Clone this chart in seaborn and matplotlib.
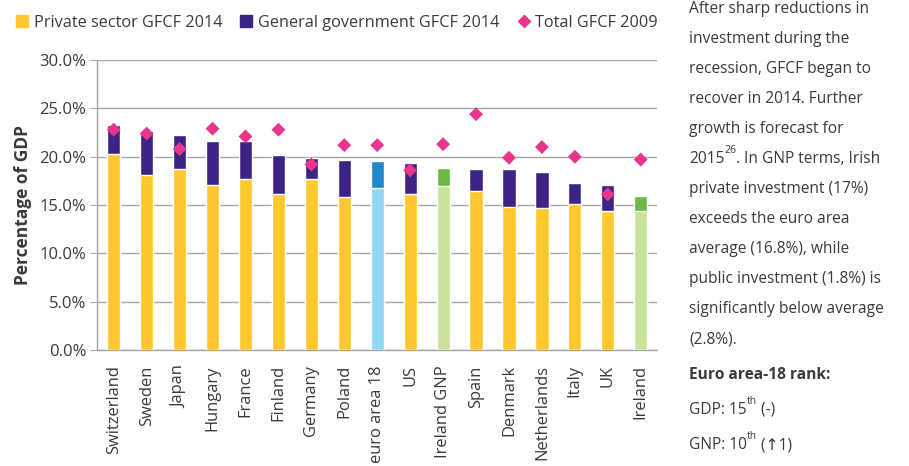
import numpy as np
import pandas as pd
import matplotlib
matplotlib.use("Agg")
import matplotlib.pyplot as plt
import seaborn as sns
from matplotlib.lines import Line2D
from matplotlib.ticker import FixedLocator, PercentFormatter

# data (% of GDP)
countries = ['Switzerland', 'Sweden', 'Japan', 'Hungary', 'France', 'Finland', 'Germany',
             'Poland', 'euro area 18', 'US', 'Ireland GNP', 'Spain', 'Denmark',
             'Netherlands', 'Italy', 'UK', 'Ireland']
private_2014 = [20.3, 18.1, 18.7, 17.1, 17.7, 16.1, 17.7, 15.8, 16.8, 16.1, 17.0, 16.5, 14.8,
                14.7, 15.1, 14.4, 14.4]
total_2014 = [23.3, 22.7, 22.2, 21.6, 21.6, 20.2, 19.9, 19.7, 19.6, 19.3, 18.8, 18.7, 18.7,
              18.4, 17.3, 17.1, 15.9]
total_2009 = [22.8, 22.4, 20.8, 22.9, 22.1, 22.8, 19.2, 21.2, 21.2, 18.6, 21.3, 24.4, 19.9,
              21.0, 20.0, 16.1, 19.7]

YELLOW = '#FFC82E'
PURPLE = '#3B2484'
PINK = '#E8368C'
LBLUE = '#8ED8F2'
DBLUE = '#2188C9'
LGREEN = '#C9E29C'
DGREEN = '#6CBA45'

low_cols = {c: YELLOW for c in countries}
top_cols = {c: PURPLE for c in countries}
low_cols['euro area 18'], top_cols['euro area 18'] = LBLUE, DBLUE
for c in ['Ireland GNP', 'Ireland']:
    low_cols[c], top_cols[c] = LGREEN, DGREEN

df = pd.DataFrame({'country': countries, 'private': private_2014,
                   'total': total_2014, 'total09': total_2009})

sns.set_style('white')
plt.rcParams['font.family'] = ['Open Sans', 'DejaVu Sans']
TXT = '#3a3a3a'

fig = plt.figure(figsize=(9.09, 4.66), dpi=100)
ax = fig.add_axes([0.107, 0.249, 0.616, 0.622])

sns.barplot(data=df, x='country', y='total', hue='country', palette=top_cols,
            width=0.4, legend=False, ax=ax, saturation=1, zorder=2)
sns.barplot(data=df, x='country', y='private', hue='country', palette=low_cols,
            width=0.4, legend=False, ax=ax, saturation=1, zorder=3)
sns.scatterplot(data=df, x='country', y='total09', marker='D', color=PINK, s=50,
                edgecolor='none', ax=ax, zorder=4)

ax.set_ylim(0, 30)
ax.set_xlim(-0.5, len(countries) - 0.5)
ax.set_yticks(np.arange(0, 31, 5))
ax.yaxis.set_major_formatter(PercentFormatter(decimals=1))
ax.grid(axis='y', color='#a6a6a6', lw=1, zorder=0)
ax.set_axisbelow(True)
for s in ['top', 'right']:
    ax.spines[s].set_visible(False)
for s in ['left', 'bottom']:
    ax.spines[s].set_color('#a6a6a6')
    ax.spines[s].set_linewidth(1)

ax.set_xlabel('')
ax.set_ylabel('Percentage of GDP', fontsize=12.5, fontweight='bold', color=TXT, labelpad=5)
ax.tick_params(axis='x', which='major', length=0, labelrotation=90, labelsize=11.9,
               labelcolor=TXT, pad=11)
ax.xaxis.set_minor_locator(FixedLocator(np.arange(-0.5, len(countries), 1)))
ax.tick_params(axis='x', which='minor', length=5, color='#a6a6a6', direction='out')
ax.tick_params(axis='y', length=5, color='#a6a6a6', direction='out', labelsize=12,
               labelcolor=TXT, left=True, pad=3)

handles = [Line2D([], [], ls='none', marker='s', color=YELLOW, markersize=8),
           Line2D([], [], ls='none', marker='s', color=PURPLE, markersize=8),
           Line2D([], [], ls='none', marker='D', color=PINK, markersize=6)]
labels = ['Private sector GFCF 2014', 'General government GFCF 2014', 'Total GFCF 2009']
fig.legend(handles, labels, loc='upper left', bbox_to_anchor=(0.003, 1.0), ncol=3,
           frameon=False, fontsize=11.7, handlelength=0.6, handletextpad=0.4,
           columnspacing=1.2, labelcolor=TXT)

# commentary on the right
lines = ['After sharp reductions in', 'investment during the', 'recession, GFCF began to',
         'recover in 2014. Further', 'growth is forecast for', None,
         'private investment (17%)', 'exceeds the euro area', 'average (16.8%), while',
         'public investment (1.8%) is', 'significantly below average', '(2.8%).']
x0 = 689 / 909
FS = 11.2
fig.canvas.draw()
rend = fig.canvas.get_renderer()


def put_sup(base, sup, rest, y):
    t = fig.text(x0, y, base, fontsize=FS, color=TXT, va='center')
    bb = t.get_window_extent(rend)
    s = fig.text(bb.x1 / fig.bbox.width, y + 0.018, sup, fontsize=7.5, color=TXT,
                 va='center')
    bb2 = s.get_window_extent(rend)
    fig.text(bb2.x1 / fig.bbox.width, y, rest, fontsize=FS, color=TXT, va='center')


for i, ln in enumerate(lines):
    y = 1 - (9 + 30 * i) / 466
    if ln is None:
        put_sup('2015', '26', '. In GNP terms, Irish', y)
    else:
        fig.text(x0, y, ln, fontsize=FS, color=TXT, va='center')

fig.text(x0, 1 - 375 / 466, 'Euro area-18 rank:', fontsize=FS, fontweight='bold',
         color=TXT, va='center')
put_sup('GDP: 15', 'th', ' (-)', 1 - 410 / 466)
put_sup('GNP: 10', 'th', ' (↑1)', 1 - 445 / 466)

fig.savefig('out.png', dpi=100)
